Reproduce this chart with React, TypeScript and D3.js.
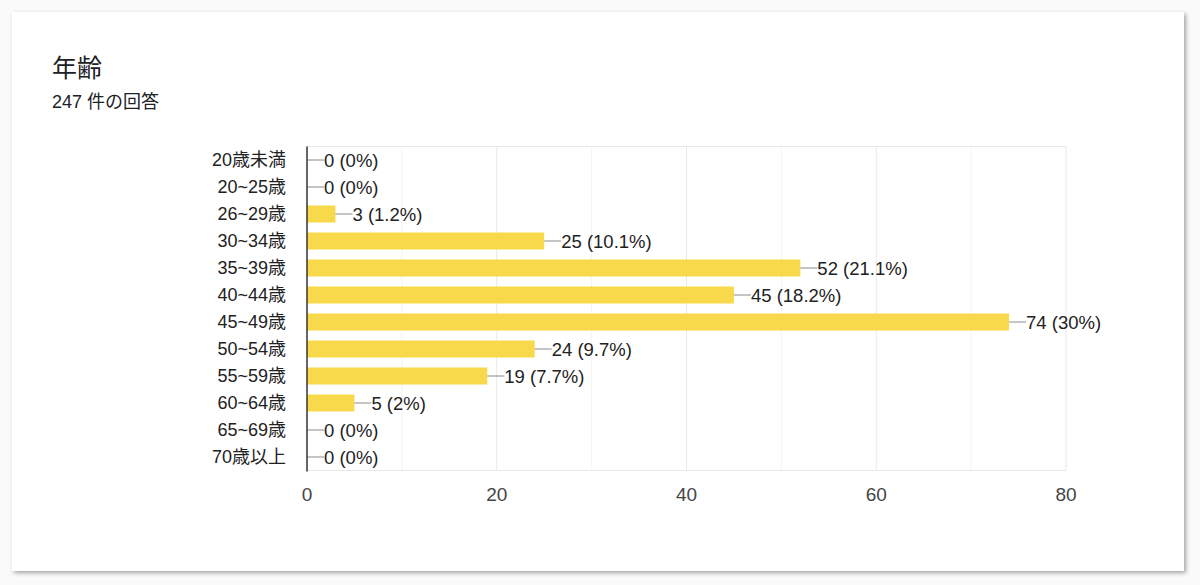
import * as d3 from "d3";
import { useEffect, useRef } from "react";

const categories = [
    "20歳未満",
    "20~25歳",
    "26~29歳",
    "30~34歳",
    "35~39歳",
    "40~44歳",
    "45~49歳",
    "50~54歳",
    "55~59歳",
    "60~64歳",
    "65~69歳",
    "70歳以上",
];
const counts = [0, 0, 3, 25, 52, 45, 74, 24, 19, 5, 0, 0];
const percents = ["0%", "0%", "1.2%", "10.1%", "21.1%", "18.2%", "30%", "9.7%", "7.7%", "2%", "0%", "0%"];
const xTicks = [0, 20, 40, 60, 80];
const minorTicks = [10, 30, 50, 70];

const title = "年齢";
const subtitle = "247 件の回答";

const FONT = "'Liberation Sans', Arial, 'Noto Sans CJK JP', sans-serif";

export default function App() {
    const ref = useRef<SVGSVGElement | null>(null);

    useEffect(() => {
        if (!ref.current) return;
        const svg = d3.select(ref.current);
        svg.selectAll("*").remove();

        const width = 1200;
        const height = 585;
        svg.attr("width", width).attr("height", height);

        // page + card
        svg.append("rect").attr("width", width).attr("height", height).attr("fill", "#fafafa");
        const defs = svg.append("defs");
        const f = defs
            .append("filter")
            .attr("id", "shadow")
            .attr("x", "-5%")
            .attr("y", "-5%")
            .attr("width", "110%")
            .attr("height", "110%");
        f.append("feDropShadow")
            .attr("dx", 2)
            .attr("dy", 2)
            .attr("stdDeviation", 2)
            .attr("flood-color", "#000")
            .attr("flood-opacity", 0.35);
        svg.append("rect")
            .attr("x", 12)
            .attr("y", 12)
            .attr("width", 1172)
            .attr("height", 559)
            .attr("fill", "#fff")
            .attr("filter", "url(#shadow)");

        svg.append("text")
            .attr("x", 52)
            .attr("y", 77)
            .attr("font-family", FONT)
            .attr("font-size", 25)
            .attr("fill", "#202124")
            .text(title);
        svg.append("text")
            .attr("x", 52)
            .attr("y", 108)
            .attr("font-family", FONT)
            .attr("font-size", 18)
            .attr("fill", "#202124")
            .text(subtitle);

        const left = 307;
        const right = 1066;
        const top = 146.5;
        const bottom = 470.5;

        const x = d3.scaleLinear().domain([0, 80]).range([left, right]);
        const y = d3.scaleBand().domain(categories).range([top, bottom]).paddingInner(0.37).paddingOuter(0.185);

        const g = svg.append("g");

        // grid
        g.selectAll(".minor")
            .data(minorTicks)
            .join("line")
            .attr("x1", (d) => x(d))
            .attr("x2", (d) => x(d))
            .attr("y1", top)
            .attr("y2", bottom)
            .attr("stroke", "#f4f4f4")
            .attr("stroke-width", 1);
        g.selectAll(".major")
            .data(xTicks.slice(1))
            .join("line")
            .attr("x1", (d) => x(d))
            .attr("x2", (d) => x(d))
            .attr("y1", top)
            .attr("y2", bottom)
            .attr("stroke", "#e8e8e8")
            .attr("stroke-width", 1);
        g.append("line")
            .attr("x1", left)
            .attr("x2", right)
            .attr("y1", top)
            .attr("y2", top)
            .attr("stroke", "#e8e8e8");
        g.append("line")
            .attr("x1", left)
            .attr("x2", right)
            .attr("y1", bottom)
            .attr("y2", bottom)
            .attr("stroke", "#e8e8e8");

        // bars
        g.selectAll(".bar")
            .data(counts)
            .join("rect")
            .attr("x", left)
            .attr("y", (_, i) => y(categories[i])!)
            .attr("width", (d) => x(d) - left)
            .attr("height", y.bandwidth())
            .attr("fill", "#f8d94c");

        // leader lines + value labels
        counts.forEach((c, i) => {
            const cy = y(categories[i])! + y.bandwidth() / 2;
            const x0 = x(c);
            g.append("line")
                .attr("x1", x0)
                .attr("x2", x0 + 17)
                .attr("y1", cy)
                .attr("y2", cy)
                .attr("stroke", "#8a8a8a")
                .attr("stroke-width", 1);
            g.append("text")
                .attr("x", x0 + 17)
                .attr("y", cy)
                .attr("dy", "0.36em")
                .attr("font-family", FONT)
                .attr("font-size", 18.5)
                .attr("fill", "#222")
                .text(`${c} (${percents[i]})`);
        });

        // y axis
        g.append("line")
            .attr("x1", left)
            .attr("x2", left)
            .attr("y1", top)
            .attr("y2", bottom + 1)
            .attr("stroke", "#333")
            .attr("stroke-width", 1.5);

        g.selectAll(".cat")
            .data(categories)
            .join("text")
            .attr("x", 286)
            .attr("y", (d) => y(d)! + y.bandwidth() / 2)
            .attr("dy", "0.36em")
            .attr("text-anchor", "end")
            .attr("font-family", FONT)
            .attr("font-size", 18)
            .attr("fill", "#222")
            .text((d) => d);

        // x tick labels
        g.selectAll(".xt")
            .data(xTicks)
            .join("text")
            .attr("x", (d) => x(d))
            .attr("y", 501)
            .attr("text-anchor", "middle")
            .attr("font-family", FONT)
            .attr("font-size", 19)
            .attr("fill", "#444")
            .text((d) => d);
    }, []);

    return <svg ref={ref} style={{ position: "absolute", left: 0, top: 0, display: "block" }}></svg>;
}
